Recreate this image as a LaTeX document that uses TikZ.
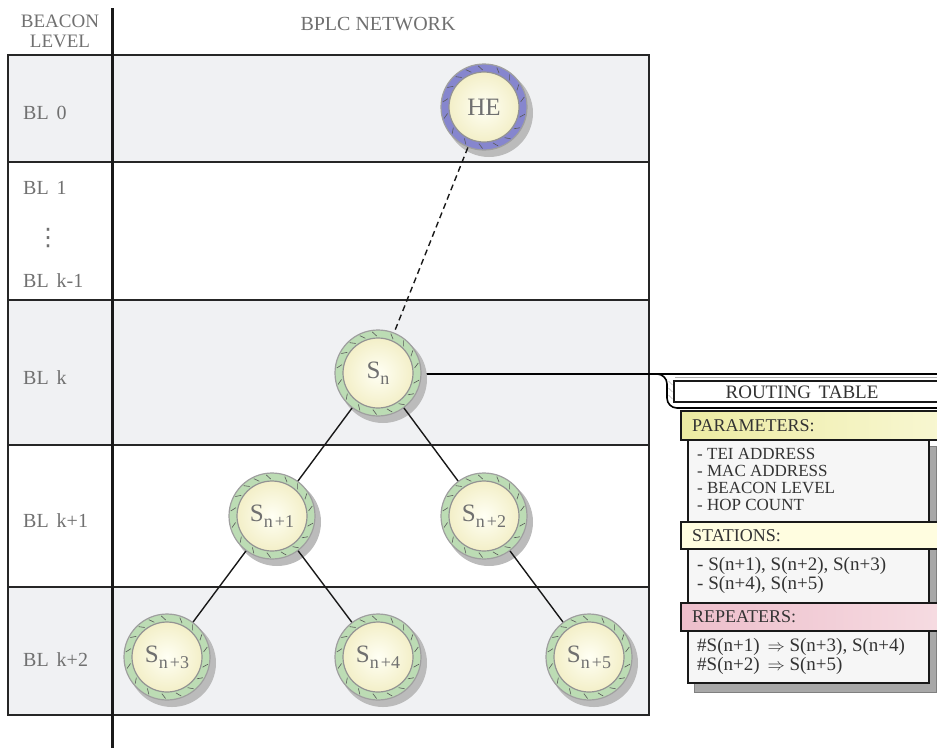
\documentclass[tikz,border=0pt]{standalone}
\usepackage{fontspec}
\setmainfont{Liberation Serif}
\newfontfamily\dejavu{DejaVu Sans}
\definecolor{txt}{HTML}{707070}
\definecolor{dtxt}{HTML}{333333}
\definecolor{band}{HTML}{F0F1F3}
\definecolor{ringg}{HTML}{BCDCB4}
\definecolor{ringp}{HTML}{8686CE}
\definecolor{ivory}{HTML}{FFFFF4}
\definecolor{ivoryd}{HTML}{F3EFC8}
\definecolor{shad}{HTML}{BBBBBB}
\definecolor{yel}{HTML}{ECEBA2}
\definecolor{yell}{HTML}{F8F7D2}
\definecolor{yelp}{HTML}{FFFDE0}
\definecolor{pinkd}{HTML}{EDBECB}
\definecolor{pinkl}{HTML}{F6DCE2}
\definecolor{bodyc}{HTML}{F6F6F6}
\definecolor{tshad}{HTML}{A8A8A8}
\newcommand\stn[5]{%
  \fill[shad] (#2+5,#3+6) circle (44pt);
  \node[ringnode, fill=#4] (#1) at (#2,#3) {};
  \foreach \a in {8,27,46,66,92,110,127,146,167,190,214,238,262,284,304,324,344}{\draw[tickmark] ([shift={(\a:37pt)}]#1.center) -- ([shift={(\a+6:41.5pt)}]#1.center);}
  \node[corenode] (#1c) at (#2,#3) {};
  \node[stlabel] (#1t) at (#2,#3) {#5};
}
\newcommand\sub[1]{\raisebox{-6pt}{\fontsize{18}{18}\selectfont #1}}
\begin{document}
\begin{tikzpicture}[x=1pt,y=-1pt,
  bline/.style={line width=2.2pt, draw=black!85},
  blab/.style={text=txt, font=\fontsize{20}{20}\selectfont, anchor=west, inner sep=0pt},
  htxt/.style={text=txt, font=\fontsize{20}{20}\selectfont, inner sep=0pt},
  ringnode/.style={circle, minimum size=86pt, inner sep=0pt, draw=gray!75, line width=1.2pt},
  corenode/.style={circle, minimum size=70pt, inner sep=0pt, draw=gray!85, line width=1.2pt,
    inner color=ivory, outer color=ivoryd},
  tickmark/.style={line width=0.6pt, draw=black!65},
  stlabel/.style={text=txt, font=\fontsize{25}{25}\selectfont, inner sep=0pt},
  conn/.style={line width=1.4pt, draw=black!90},
  hdr/.style={line width=2pt, draw=black!90},
  rtxt/.style={text=dtxt, font=\fontsize{18}{18}\selectfont, anchor=west, inner sep=0pt},
  rtxtp/.style={text=dtxt, font=\fontsize{17}{17}\selectfont, anchor=west, inner sep=0pt},
  rtxtb/.style={text=dtxt, font=\fontsize{19}{19}\selectfont, anchor=west, inner sep=0pt},
  bodybox/.style={line width=1.8pt, draw=black!90, fill=bodyc}]
\useasboundingbox (0,0) rectangle (937,748);
% bands
\fill[band] (8,55) rectangle (649,162);
\fill[band] (8,300) rectangle (649,445);
\fill[band] (8,587) rectangle (649,715);
\draw[bline] (8,55) rectangle (649,715);
\foreach \yy in {162,300,445,587} \draw[bline] (8,\yy) -- (649,\yy);
\draw[line width=3pt, draw=black!90] (112,8) -- (112,748);
% headers
\node[text=txt, font=\fontsize{19}{20}\selectfont, inner sep=0pt, align=center] (hb) at (60,31) {BEACON\\LEVEL};
\node[htxt] (hn) at (378,24) {BPLC NETWORK};
% level labels
\node[blab] (l0) at (23,113) {BL\hspace{0.4em}0};
\node[blab] (l1) at (23,188) {BL\hspace{0.4em}1};
\node[text=txt, inner sep=0pt, font=\dejavu\fontsize{24}{24}\selectfont] (ld) at (48,238) {⋮};
\node[blab] (lk1) at (23,281) {BL\hspace{0.4em}k-1};
\node[blab] (lk) at (23,378) {BL\hspace{0.4em}k};
\node[blab] (lkp1) at (23,521) {BL\hspace{0.4em}k+1};
\node[blab] (lkp2) at (23,660) {BL\hspace{0.4em}k+2};
% routing-table frame connector
\coordinate (rtend) at (940,374);
\draw[line width=1.6pt] (420,374) -- (rtend);
\draw[line width=1.6pt, rounded corners=10pt] (640,374) -- (667,374) -- (667,408) -- (945,408);
\draw[gray!60, line width=0.6pt] (675,377.5) -- (945,377.5);
\foreach \yy in {381,388,395} \draw[gray!55, line width=0.5pt] (668.5,\yy) -- (672.5,\yy+4);
% stations
\stn{HE}{484}{107}{ringp}{HE}
\stn{Sn}{378}{373}{ringg}{S\sub{n}}
\stn{Sa}{272}{516}{ringg}{S\sub{n\hspace{2pt}+1}}
\stn{Sb}{484}{516}{ringg}{S\sub{n\hspace{2pt}+2}}
\stn{Sc}{167}{657}{ringg}{S\sub{n\hspace{2pt}+3}}
\stn{Sd}{378}{657}{ringg}{S\sub{n\hspace{2pt}+4}}
\stn{Se}{589}{657}{ringg}{S\sub{n\hspace{2pt}+5}}
% connectors
\draw[conn, dashed, dash pattern=on 6pt off 4pt] (HE) -- (Sn);
\draw[conn] (Sn) -- (Sa);
\draw[conn] (Sn) -- (Sb);
\draw[conn] (Sa) -- (Sc);
\draw[conn] (Sa) -- (Sd);
\draw[conn] (Sb) -- (Se);
% routing table
\draw[line width=1.8pt, draw=black!90, fill=white] (674,381) rectangle (945,402);
\node[text=dtxt, font=\fontsize{19}{19}\selectfont, inner sep=0pt] (rtt) at (802,392) {ROUTING\hspace{0.4em}TABLE};
\fill[tshad, draw=gray] (694,446) rectangle (936,692);
\draw[bodybox] (688,440) rectangle (929,522);
\draw[bodybox] (688,549) rectangle (929,603);
\draw[bodybox] (688,631) rectangle (929,683);
\draw[hdr, left color=yel, right color=yell] (681,411) rectangle (945,440);
\draw[hdr, fill=yelp] (681,522) rectangle (945,549);
\draw[hdr, left color=pinkd, right color=pinkl] (681,603) rectangle (945,631);
\node[rtxt] (tp) at (692,426) {PARAMETERS:};
\node[rtxt] (ts) at (692,536) {STATIONS:};
\node[rtxt] (tr) at (692,617) {REPEATERS:};
\node[rtxtp] (p1) at (697,454) {- TEI ADDRESS};
\node[rtxtp] (p2) at (697,471) {- MAC ADDRESS};
\node[rtxtp] (p3) at (697,488) {- BEACON LEVEL};
\node[rtxtp] (p4) at (697,505) {- HOP COUNT};
\node[rtxtb] (s1) at (697,566) {- S(n+1), S(n+2), S(n+3)};
\node[rtxtb] (s2) at (697,585) {- S(n+4), S(n+5)};
\node[rtxtb] (r1) at (697,647) {\#S(n+1) \,$\Rightarrow$ S(n+3), S(n+4)};
\node[rtxtb] (r2) at (697,666) {\#S(n+2) \,$\Rightarrow$ S(n+5)};
\end{tikzpicture}
\end{document}
